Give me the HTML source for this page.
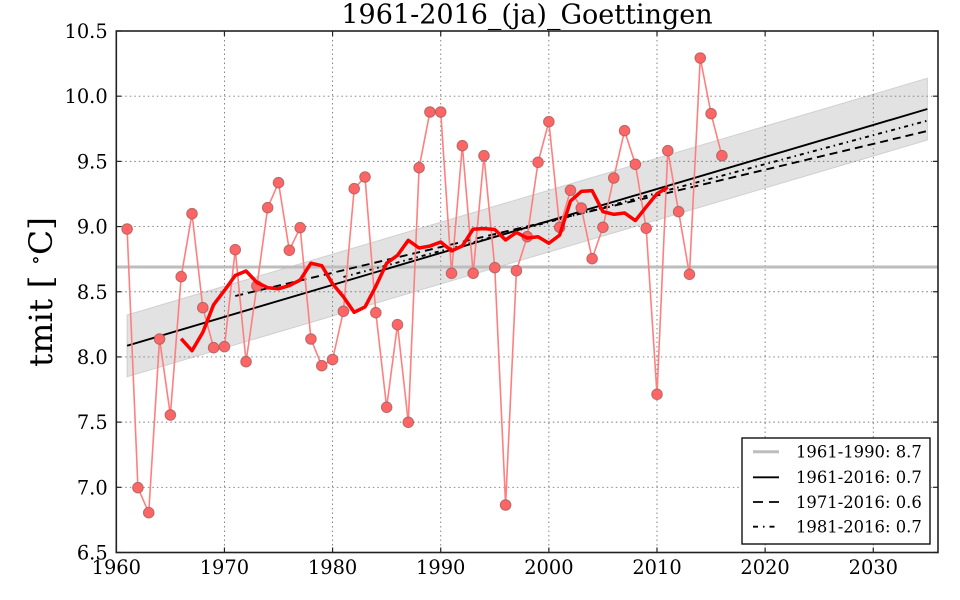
<!DOCTYPE html>
<html>
<head>
<meta charset="utf-8">
<style>
html,body{margin:0;padding:0;background:#fff;}
svg{display:block;}
text{font-family:"DejaVu Serif","Liberation Serif",serif;fill:#000;}
</style>
</head>
<body>
<svg id="chart" width="960" height="600" viewBox="0 0 960 600" xmlns="http://www.w3.org/2000/svg">
<rect x="0" y="0" width="960" height="600" fill="#fff"/>
<g id="band"></g>
<g id="grid" stroke="#777" stroke-width="0.9" stroke-dasharray="1.5,3" fill="none"></g>
<line x1="116.3" y1="267" x2="938" y2="267" stroke="#bdbdbd" stroke-width="3"/>
<g id="trends" fill="none" stroke="#000"></g>
<g id="data"></g>
<rect x="116.3" y="31" width="821.7" height="521.5" fill="none" stroke="#222" stroke-width="1.6"/>
<g id="ticks" stroke="#222" stroke-width="1.2"></g>

<text x="527" y="23.5" font-size="27" text-anchor="middle">1961-2016_(ja)_Goettingen</text>

<g font-size="19.4" text-anchor="end">
<text x="107.7" y="38">10.5</text>
<text x="107.7" y="103.2">10.0</text>
<text x="107.7" y="168.4">9.5</text>
<text x="107.7" y="233.6">9.0</text>
<text x="107.7" y="298.8">8.5</text>
<text x="107.7" y="363.9">8.0</text>
<text x="107.7" y="429.1">7.5</text>
<text x="107.7" y="494.3">7.0</text>
<text x="107.7" y="559.5">6.5</text>
</g>
<g font-size="19.4" text-anchor="middle">
<text x="116.3" y="574">1960</text>
<text x="224.4" y="574">1970</text>
<text x="332.6" y="574">1980</text>
<text x="440.7" y="574">1990</text>
<text x="548.9" y="574">2000</text>
<text x="657" y="574">2010</text>
<text x="765.1" y="574">2020</text>
<text x="873.3" y="574">2030</text>
</g>

<text transform="translate(52,367) rotate(-90)" font-size="32" textLength="150" lengthAdjust="spacingAndGlyphs">tmit [ <tspan font-size="20" dy="-10">∘</tspan><tspan dy="10">C]</tspan></text>

<g>
<rect x="742" y="438" width="188" height="106" fill="#fff" stroke="#111" stroke-width="1.4"/>
<line x1="753" y1="451.7" x2="779" y2="451.7" stroke="#bdbdbd" stroke-width="3"/>
<line x1="753" y1="477.3" x2="779" y2="477.3" stroke="#000" stroke-width="1.8"/>
<line x1="753" y1="502" x2="779" y2="502" stroke="#000" stroke-width="1.8" stroke-dasharray="10,6"/>
<line x1="753" y1="526.7" x2="779" y2="526.7" stroke="#000" stroke-width="1.8" stroke-dasharray="5,5,1.5,5"/>
<g font-size="16.4">
<text x="796" y="457.5">1961-1990: 8.7</text>
<text x="796" y="483.1">1961-2016: 0.7</text>
<text x="796" y="507.8">1971-2016: 0.6</text>
<text x="796" y="532.5">1981-2016: 0.7</text>
</g>
</g>
</svg>
<script>
(function(){
var NS="http://www.w3.org/2000/svg";
function X(yr){return 116.3+(yr-1960)*10.814;}
function Y(v){return 31+(10.5-v)*130.375;}
function el(parent,tag,attrs){var e=document.createElementNS(NS,tag);for(var k in attrs)e.setAttribute(k,attrs[k]);document.getElementById(parent).appendChild(e);return e;}
el("band","polygon",{points:X(1961)+",315 "+X(2035)+",78.3 "+X(2035)+",140 "+X(1961)+",376.7",fill:"#e2e2e2",stroke:"#d0d0d0","stroke-width":"1"});
var yv=[7.0,7.5,8.0,8.5,9.0,9.5,10.0];
yv.forEach(function(v){el("grid","line",{x1:116.3,x2:938,y1:Y(v),y2:Y(v)});});
for(var yr=1970;yr<=2030;yr+=10){el("grid","line",{x1:X(yr),x2:X(yr),y1:31,y2:552.5});}
var yt=[6.5,7.0,7.5,8.0,8.5,9.0,9.5,10.0,10.5];
yt.forEach(function(v){var y=Y(v);el("ticks","line",{x1:116.3,x2:121.3,y1:y,y2:y});el("ticks","line",{x1:938,x2:933,y1:y,y2:y});});
for(var yr2=1960;yr2<=2030;yr2+=10){var x=X(yr2);el("ticks","line",{x1:x,x2:x,y1:552.5,y2:547.5});el("ticks","line",{x1:x,x2:x,y1:31,y2:36});}
el("trends","line",{x1:X(1961),y1:345.7,x2:X(2035),y2:109,"stroke-width":"1.9"});
el("trends","line",{x1:X(1971),y1:296,x2:X(2035),y2:131,"stroke-width":"1.9","stroke-dasharray":"8,5"});
el("trends","line",{x1:X(1981),y1:277,x2:X(2035),y2:120.7,"stroke-width":"1.9","stroke-dasharray":"4,4,1.5,4"});
var ys=[229,487.7,512.7,339,415,276.7,213.7,307.7,347.7,346.7,249.7,361.7,286,207.7,182.7,250.3,227.7,339,365.7,359.5,311.3,188.7,177,312.7,407.3,324.7,422.3,167.7,112,112,273.3,145.7,273.3,155.7,267.7,505,270.7,236.7,162.3,121.7,227.3,190.3,208,258.7,227.3,178,130.7,164.3,228.3,394.3,150.7,211.7,274.3,58,113.7,155.7];
var pts=ys.map(function(y,i){return X(1961+i).toFixed(2)+","+y;}).join(" ");
el("data","polyline",{points:pts,fill:"none",stroke:"#ff7f7f","stroke-width":"1.6"});
ys.forEach(function(y,i){el("data","circle",{cx:X(1961+i),cy:y,r:5.3,fill:"#ff6565",stroke:"#9a5a5a","stroke-opacity":"0.75","stroke-width":"1"});});
var sp=[];
for(var i=5;i<ys.length-5;i++){var s=0;for(var j=i-5;j<=i+5;j++)s+=ys[j];sp.push(X(1961+i).toFixed(2)+","+(s/11).toFixed(2));}
el("data","polyline",{points:sp.join(" "),fill:"none",stroke:"#ff0000","stroke-width":"3.5","stroke-linejoin":"round"});
})();
</script>
</body>
</html>
